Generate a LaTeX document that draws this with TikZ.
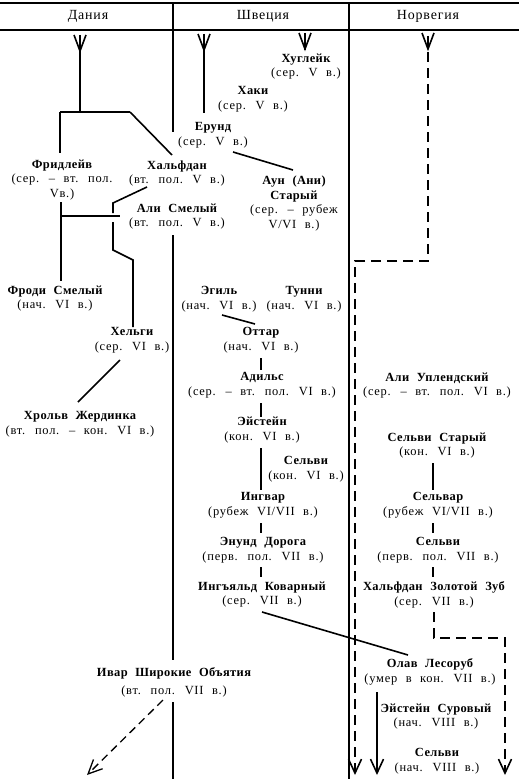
\documentclass[tikz,border=0pt]{standalone}
\usepackage{fontspec}
\setmainfont{Liberation Serif}[LetterSpace=6,WordSpace=2.2]
\usetikzlibrary{arrows.meta}
\newcommand\pname[1]{{\bfseries\addfontfeatures{LetterSpace=3}#1}}
\tikzset{
  person/.style={inner sep=0pt, outer sep=4bp, align=center, font=\fontsize{12.5}{14.8}\selectfont},
  head/.style={inner sep=0pt, font=\fontsize{14}{16}\selectfont},
  tree/.style={line width=1.6bp},
  divider/.style={line width=1.1bp},
  dashline/.style={line width=1.6bp, dash pattern=on 10bp off 6bp},
  endtip/.style={-{Straight Barb[length=14bp,width=13bp]}},
  vdown/.pic={\draw[tree, line join=miter] (-6,0) -- (0,16) -- (6,0);}
}
\begin{document}
\begin{tikzpicture}[x=1bp,y=-1bp]
\useasboundingbox (0,0) rectangle (519,779);
% frame and headers
\draw[divider] (0,3) -- (519,3);
\draw[divider] (0,30) -- (519,30);
\node[head] (hdk) at (88,16) {Дания};
\node[head] (hse) at (263,16) {Швеция};
\node[head] (hno) at (428,16) {Норвегия};
\draw[divider] (173,3) -- (173,132);
\draw[divider] (173,235) -- (173,660);
\draw[divider] (173,702) -- (173,779);
\draw[divider] (349,3) -- (349,779);

% Denmark
\node[person] (fridleif) at (62,180) {\pname{Фридлейв}\\(сер. – вт. пол.\\Vв.)};
\node[person] (halfdan) at (177,173.5) {\pname{Хальфдан}\\(вт. пол. V в.)};
\node[person] (ali) at (177,216.5) {\pname{Али Смелый}\\(вт. пол. V в.)};
\node[person] (frodi) at (55,298.5) {\pname{Фроди Смелый}\\(нач. VI в.)};
\node[person] (helgi) at (132,340) {\pname{Хельги}\\(сер. VI в.)};
\node[person] (hrolf) at (80,424) {\pname{Хрольв Жердинка}\\(вт. пол. – кон. VI в.)};
\node[person] (ivar) at (174,682) {\pname{Ивар Широкие Объятия}\\[3bp](вт. пол. VII в.)};

% Sweden
\node[person] (hugleik) at (306,66.5) {\pname{Хуглейк}\\(сер. V в.)};
\node[person] (haki) at (253,99.5) {\pname{Хаки}\\(сер. V в.)};
\node[person] (erund) at (213,135) {\pname{Ерунд}\\(сер. V в.)};
\node[person] (aun) at (294,203.5) {\pname{Аун (Ани)}\\\pname{Старый}\\(сер. – рубеж\\V/VI в.)};
\node[person] (egil) at (219,299.5) {\pname{Эгиль}\\(нач. VI в.)};
\node[person] (tunni) at (304,299.5) {\pname{Тунни}\\(нач. VI в.)};
\node[person] (ottar) at (261,340.5) {\pname{Оттар}\\(нач. VI в.)};
\node[person] (adils) at (262,385.5) {\pname{Адильс}\\(сер. – вт. пол. VI в.)};
\node[person] (eystein) at (262,430) {\pname{Эйстейн}\\(кон. VI в.)};
\node[person] (selvis) at (306,469.5) {\pname{Сельви}\\(кон. VI в.)};
\node[person] (ingvar) at (263,505.5) {\pname{Ингвар}\\(рубеж VI/VII в.)};
\node[person] (onund) at (263,550) {\pname{Энунд Дорога}\\(перв. пол. VII в.)};
\node[person] (ingjald) at (262,594.5) {\pname{Ингъяльд Коварный}\\(сер. VII в.)};

% Norway
\node[person] (aliu) at (437,385.5) {\pname{Али Уплендский}\\(сер. – вт. пол. VI в.)};
\node[person] (selvist) at (437,445.5) {\pname{Сельви Старый}\\(кон. VI в.)};
\node[person] (selvar) at (438,505.5) {\pname{Сельвар}\\(рубеж VI/VII в.)};
\node[person] (selvin) at (438,550) {\pname{Сельви}\\(перв. пол. VII в.)};
\node[person] (halfdan2) at (434,594.5) {\pname{Хальфдан Золотой Зуб}\\(сер. VII в.)};
\node[person] (olav) at (430,672) {\pname{Олав Лесоруб}\\(умер в кон. VII в.)};
\node[person] (eystein2) at (436,716.5) {\pname{Эйстейн Суровый}\\(нач. VIII в.)};
\node[person] (selvi2) at (437,761) {\pname{Сельви}\\(нач. VIII в.)};

% ---- Denmark connectors
\coordinate (dv) at (80,35);
\coordinate (dj) at (80,112);
\coordinate (djl) at (60,112);
\coordinate (djr) at (130,112);
\coordinate (dh) at (172,155);
\pic at (dv) {vdown};
\draw[tree] (dv) -- (dj);
\draw[tree] (djl) -- (djr);
\draw[tree] (djl) -- (60,153);
\draw[tree] (djr) -- (dh);
\coordinate (ha) at (147,187);
\coordinate (hb) at (113,203);
\coordinate (hc) at (113,213);
\draw[tree] (ha) -- (hb) -- (hc);
\coordinate (fa) at (61,202);
\coordinate (fb) at (61,281);
\draw[tree] (fa) -- (fb);
\coordinate (fx) at (61,216);
\coordinate (fy) at (120,216);
\draw[tree] (fx) -- (fy);
\coordinate (ga) at (113,222);
\coordinate (gb) at (113,250);
\coordinate (gc) at (133,260);
\coordinate (gd) at (133,327);
\draw[tree] (ga) -- (gb) -- (gc) -- (gd);
\coordinate (ka) at (120,360);
\coordinate (kb) at (78,402);
\draw[tree] (ka) -- (kb);
\coordinate (ia) at (163,700);
\coordinate (ib) at (87,775);
\draw[line width=1.3bp, dash pattern=on 8bp off 5bp, endtip] (ia) -- (ib);

% ---- Sweden connectors
\coordinate (sv) at (204,34);
\coordinate (sj) at (204,113);
\pic at (sv) {vdown};
\draw[tree] (sv) -- (sj);
\coordinate (hv) at (305,33);
\pic at (hv) {vdown};
\draw[tree] (hv) -- (305,50);
\coordinate (ea) at (233,152);
\coordinate (eb) at (293,170);
\draw[tree] (ea) -- (eb);
\coordinate (ga1) at (222,315);
\coordinate (gb1) at (255,324);
\draw[tree] (ga1) -- (gb1);
\draw[tree] (261,358) -- (261,370);
\draw[tree] (261,403) -- (261,417);
\draw[tree] (261,448) -- (261,490);
\draw[tree] (261,523) -- (261,533);
\draw[tree] (261,567) -- (261,577);
\coordinate (ja) at (262,612);
\coordinate (jb) at (408,655);
\draw[tree] (ja) -- (jb);

% ---- Norway connectors
\coordinate (nv) at (428,33);
\coordinate (nc) at (428,261);
\coordinate (nd) at (355,261);
\coordinate (ne) at (355,775);
\pic at (nv) {vdown};
\draw[dashline, endtip] (428,36) -- (nc) -- (nd) -- (ne);
\draw[tree] (433,463) -- (433,490);
\draw[tree] (433,523) -- (433,533);
\draw[tree] (433,567) -- (433,577);
\coordinate (za) at (434,612);
\coordinate (zb) at (434,638);
\coordinate (zc) at (505,638);
\coordinate (zd) at (505,775);
\draw[dashline, endtip] (za) -- (zb) -- (zc) -- (zd);
\coordinate (oa) at (377,692);
\coordinate (ob) at (377,775);
\draw[tree, endtip] (oa) -- (ob);
\end{tikzpicture}
\end{document}
